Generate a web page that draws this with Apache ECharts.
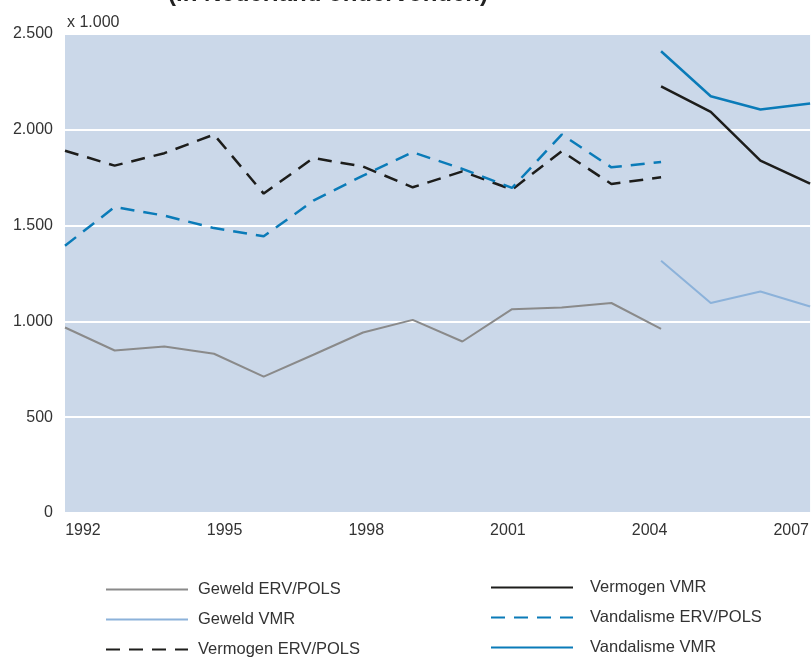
<!DOCTYPE html>
<html>
<head>
<meta charset="utf-8">
<script src="https://cdn.jsdelivr.net/npm/echarts@6/dist/echarts.min.js"></script>
<style>
html,body{margin:0;padding:0;background:#fff;}
#c{width:812px;height:658px;}
</style>
</head>
<body>
<div id="c"></div>
<script>
// ---- data ----
var yearsERV = [1992,1993,1994,1995,1996,1997,1998,1999,2000,2001,2002,2003,2004];
var yearsVMR = [2004,2005,2006,2007];
var geweldERV = [968,848,869,831,712,826,942,1008,895,1064,1073,1096,961];
var vermogenERV = [1891,1813,1878,1975,1667,1853,1808,1700,1783,1688,1888,1717,1752];
var vandalismeERV = [1395,1597,1552,1487,1444,1630,1761,1883,1796,1697,1975,1804,1832];
var geweldVMR = [1317,1096,1156,1078];
var vermogenVMR = [2227,2094,1839,1719];
var vandalismeVMR = [2410,2175,2106,2137];
var xTickLabels = [1992,1995,1998,2001,2004,2007];
var yTicks = [0,500,1000,1500,2000,2500];
var titleText = '(in Nederland ondervonden)';
var unitText = 'x 1.000';

function pairs(xs, ys){ return xs.map(function(x,i){ return [x, ys[i]]; }); }
function fmt(v){
  if (v >= 1000) { var r = v % 1000; return Math.floor(v/1000) + '.' + ('00' + r).slice(-3); }
  return String(v);
}
var FONT = 'Liberation Sans';
var TXT = '#333333';
var dash = [14, 9];

var legendBase = {
  orient: 'vertical', itemWidth: 82, itemHeight: 14, itemGap: 13, padding: 0, height: 120,
  itemStyle: {opacity: 0, borderWidth: 0}
};

var chart = echarts.init(document.getElementById('c'));
chart.setOption({
  animation: false,
  title: {
    text: titleText, left: 163, top: -23,
    textStyle: {fontFamily: FONT, fontSize: 24, fontWeight: 'bold', color: '#222'}
  },
  grid: {left: 65, right: 0, top: 34, bottom: 145, show: true, backgroundColor: '#cbd8e9', borderWidth: 0},
  legend: [
    Object.assign({}, legendBase, {
      data: ['Geweld ERV/POLS','Geweld VMR','Vermogen ERV/POLS'],
      left: 105, top: 581,
      textStyle: {fontFamily: FONT, fontSize: 16.5, color: TXT, padding: [0,0,0,5]}
    }),
    Object.assign({}, legendBase, {
      data: ['Vermogen VMR','Vandalisme ERV/POLS','Vandalisme VMR'],
      left: 490, top: 579,
      textStyle: {fontFamily: FONT, fontSize: 16.5, color: TXT, padding: [0,0,0,12]}
    })
  ],
  xAxis: [
    {
      type: 'value', min: 1992, max: 2007, position: 'bottom',
      axisLine: {show: true, lineStyle: {color: '#ffffff', width: 2}},
      axisTick: {show: false}, axisLabel: {show: false}, splitLine: {show: false}
    },
    {
      type: 'value', min: 1991.62, max: 2007.40, position: 'bottom',
      axisLine: {show: false}, axisTick: {show: false}, splitLine: {show: false},
      axisLabel: {
        customValues: xTickLabels, margin: 10,
        formatter: function(v){ return String(Math.round(v)); },
        fontFamily: FONT, fontSize: 16, color: TXT
      }
    }
  ],
  yAxis: {
    type: 'value', min: yTicks[0], max: yTicks[yTicks.length-1], interval: 500,
    name: unitText, nameLocation: 'end', nameGap: 3,
    nameTextStyle: {align: 'left', fontFamily: FONT, fontSize: 16, color: TXT, padding: [0,0,0,2]},
    axisLine: {show: false}, axisTick: {show: false},
    axisLabel: {formatter: fmt, margin: 12, fontFamily: FONT, fontSize: 16, color: TXT},
    splitLine: {show: true, lineStyle: {color: '#ffffff', width: 2}}
  },
  series: [
    {name: 'Geweld ERV/POLS', type: 'line', xAxisIndex: 0, symbol: 'none', data: pairs(yearsERV, geweldERV),
     lineStyle: {color: '#8a8a8a', width: 2}, itemStyle: {color: '#8a8a8a'}},
    {name: 'Geweld VMR', type: 'line', xAxisIndex: 0, symbol: 'none', data: pairs(yearsVMR, geweldVMR),
     lineStyle: {color: '#8cb2da', width: 2}, itemStyle: {color: '#8cb2da'}},
    {name: 'Vermogen ERV/POLS', type: 'line', xAxisIndex: 0, symbol: 'none', data: pairs(yearsERV, vermogenERV),
     lineStyle: {color: '#1d1d1b', width: 2.5, type: dash}, itemStyle: {color: '#1d1d1b'}},
    {name: 'Vermogen VMR', type: 'line', xAxisIndex: 0, symbol: 'none', data: pairs(yearsVMR, vermogenVMR),
     lineStyle: {color: '#1d1d1b', width: 2.5}, itemStyle: {color: '#1d1d1b'}},
    {name: 'Vandalisme ERV/POLS', type: 'line', xAxisIndex: 0, symbol: 'none', data: pairs(yearsERV, vandalismeERV),
     lineStyle: {color: '#0a7bb8', width: 2.5, type: dash}, itemStyle: {color: '#0a7bb8'}},
    {name: 'Vandalisme VMR', type: 'line', xAxisIndex: 0, symbol: 'none', data: pairs(yearsVMR, vandalismeVMR),
     lineStyle: {color: '#0a7bb8', width: 2.5}, itemStyle: {color: '#0a7bb8'}}
  ]
});
</script>
</body>
</html>
